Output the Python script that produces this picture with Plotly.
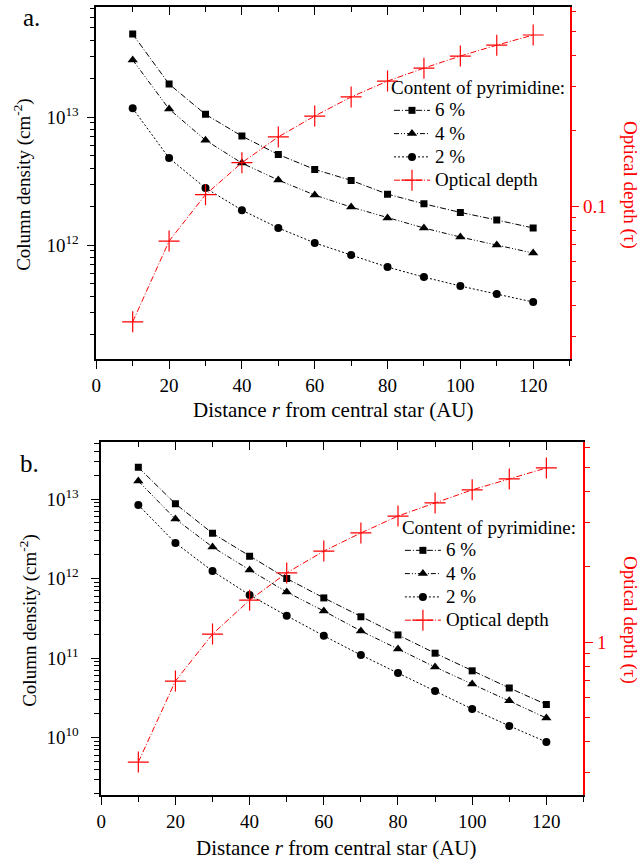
import plotly.graph_objects as go

W, H = 642, 867
FONT = "Liberation Serif, Times New Roman, DejaVu Serif, serif"

r = [10, 20, 30, 40, 50, 60, 70, 80, 90, 100, 110, 120]

# panel a
a_6 = [4.45e13, 1.81e13, 1.05e13, 7.1e12, 5.1e12, 3.9e12, 3.2e12, 2.5e12, 2.1e12, 1.8e12, 1.57e12, 1.36e12]
a_4 = [2.79e13, 1.155e13, 6.6e12, 4.37e12, 3.22e12, 2.46e12, 1.98e12, 1.63e12, 1.36e12, 1.155e12, 1.0e12, 8.66e11]
a_2 = [1.17e13, 4.78e12, 2.79e12, 1.875e12, 1.36e12, 1.04e12, 8.36e11, 6.73e11, 5.62e11, 4.79e11, 4.14e11, 3.59e11]
a_tau = [0.0344, 0.0724, 0.111, 0.149, 0.189, 0.229, 0.273, 0.316, 0.356, 0.398, 0.44, 0.483]

# panel b
b_6 = [2.5e13, 8.7e12, 3.7e12, 1.9e12, 1.0e12, 5.7e11, 3.3e11, 1.95e11, 1.15e11, 6.9e10, 4.2e10, 2.6e10]
b_4 = [1.68e13, 5.6e12, 2.49e12, 1.28e12, 6.76e11, 3.9e11, 2.19e11, 1.3e11, 7.7e10, 4.7e10, 2.9e10, 1.76e10]
b_2 = [8.4e12, 2.8e12, 1.24e12, 6.2e11, 3.4e11, 1.9e11, 1.09e11, 6.5e10, 3.85e10, 2.28e10, 1.4e10, 8.8e9]
b_tau = [0.331, 0.698, 1.076, 1.47, 1.89, 2.31, 2.73, 3.19, 3.60, 4.06, 4.49, 4.97]

series_names = ["6 %", "4 %", "2 %"]
tau_name = "Optical depth"
legend_title = "Content of pyrimidine:"
x_title = "Distance <i>r</i> from central star (AU)"
yl_title = "Column density (cm<sup>-2</sup>)"
yr_title = "Optical depth (\u03c4)"

x_major = [0, 20, 40, 60, 80, 100, 120]
x_minor = [10, 30, 50, 70, 90, 110, 130]

def px_x(p):
    return p / W

def px_y(p):
    return 1 - p / H

def big(s):
    return '<span style="font-size:19px">' + s + '</span>'

fig = go.Figure()

styles = [
    dict(symbol="square", size=7, dash="6px,2px,1px,2px"),
    dict(symbol="triangle-up", size=9, dash="5px,2px,1px,2px,1px,2px"),
    dict(symbol="circle", size=8, dash="2px,2px"),
]

def add_panel(xa, ya, ya2, xtop, data, tau, legend):
    for name, vals, st in zip(series_names, data, styles):
        fig.add_trace(go.Scatter(
            x=r, y=vals, name=big(name), mode="lines+markers", xaxis=xa, yaxis=ya,
            legend=legend,
            line=dict(color="black", width=1, dash=st["dash"]),
            marker=dict(symbol=st["symbol"], size=st["size"], color="black"),
        ))
    fig.add_trace(go.Scatter(
        x=r, y=tau, name=big(tau_name), mode="lines+markers", xaxis=xa, yaxis=ya2,
        legend=legend,
        line=dict(color="red", width=1, dash="6px,2px,1px,2px"),
        marker=dict(symbol="cross-thin", size=15, color="red",
                    line=dict(color="red", width=1.2)),
    ))
    # empty trace so the top (mirror) tick axis is drawn
    fig.add_trace(go.Scatter(x=[], y=[], xaxis=xtop, yaxis=ya,
                             showlegend=False, hoverinfo="skip"))

add_panel("x", "y", "y2", "x3", [a_6, a_4, a_2], a_tau, "legend")
add_panel("x2", "y3", "y4", "x4", [b_6, b_4, b_2], b_tau, "legend2")

tickfont = dict(family=FONT, size=19, color="black")
redfont = dict(family=FONT, size=19, color="red")

def xaxis_cfg(dom, anchor):
    return dict(
        domain=dom, anchor=anchor, range=[0, 130],
        tickmode="array", tickvals=x_major, ticks="outside", ticklen=8,
        tickwidth=1.3, tickcolor="black",
        minor=dict(tickmode="array", tickvals=x_minor, ticks="outside",
                   ticklen=5, tickwidth=1.3, tickcolor="black"),
        showline=True, linecolor="black", linewidth=1.5, mirror=True,
        showgrid=False, zeroline=False, tickfont=tickfont,
    )

def xtop_cfg(overlay, anchor):
    return dict(
        overlaying=overlay, anchor=anchor, side="top", range=[0, 130],
        tickmode="array", tickvals=x_major, ticks="inside", ticklen=8,
        tickwidth=1.3, tickcolor="black", showticklabels=False,
        minor=dict(tickmode="array", tickvals=x_minor, ticks="inside",
                   ticklen=5, tickwidth=1.3, tickcolor="black"),
        showline=False, showgrid=False, zeroline=False,
    )

def log_minor(lo, hi):
    vals = []
    for e in range(lo, hi + 1):
        for m in range(2, 10):
            vals.append(m * 10.0 ** e)
    return vals

def yleft_cfg(dom, anchor, rng, majors, labels, mlo, mhi, standoff):
    return dict(
        domain=dom, anchor=anchor, type="log", range=rng,
        tickmode="array", tickvals=majors, ticktext=labels,
        ticks="outside", ticklen=8, tickwidth=1.3, tickcolor="black",
        ticklabelstandoff=standoff,
        minor=dict(tickmode="array", tickvals=log_minor(mlo, mhi),
                   ticks="outside", ticklen=5, tickwidth=1.3, tickcolor="black"),
        showline=True, linecolor="black", linewidth=1.5,
        showgrid=False, zeroline=False, tickfont=tickfont,
    )

def yright_cfg(overlay, anchor, rng, majors, labels, mlo, mhi):
    return dict(
        overlaying=overlay, anchor=anchor, side="right", type="log", range=rng,
        tickmode="array", tickvals=majors, ticktext=labels,
        ticks="outside", ticklen=8, tickwidth=1.3, tickcolor="red",
        minor=dict(tickmode="array", tickvals=log_minor(mlo, mhi),
                   ticks="outside", ticklen=5, tickwidth=1.3, tickcolor="red"),
        showline=True, linecolor="red", linewidth=1.5,
        showgrid=False, zeroline=False, tickfont=redfont,
    )

dom_xa = [px_x(92), px_x(569)]
dom_ya = [px_y(359), px_y(7)]
dom_xb = [px_x(97), px_x(583)]
dom_yb = [px_y(795), px_y(442)]

legend_cfg = dict(
    font=dict(family=FONT, size=15.6, color="black"),
    bgcolor="rgba(0,0,0,0)", xanchor="left", yanchor="top",
    tracegroupgap=0, itemwidth=36,
    title=dict(text=legend_title, font=dict(family=FONT, size=19, color="black")),
)

fig.update_layout(
    width=W, height=H, margin=dict(l=0, r=0, t=0, b=0),
    paper_bgcolor="white", plot_bgcolor="white",
    font=dict(family=FONT, size=19, color="black"),
    xaxis=xaxis_cfg(dom_xa, "y"),
    yaxis=yleft_cfg(dom_ya, "x", [11.11, 13.86], [1e12, 1e13],
                    ["10<sup>12</sup>", "10<sup>13</sup>"], 11, 13, 4),
    yaxis2=yright_cfg("y", "x", [-1.612, -0.204], [0.1], ["0.1"], -2, -1),
    xaxis3=xtop_cfg("x", "y"),
    xaxis2=xaxis_cfg(dom_xb, "y3"),
    yaxis3=yleft_cfg(dom_yb, "x2", [9.277, 13.717], [1e10, 1e11, 1e12, 1e13],
                     ["10<sup>10</sup>", "10<sup>11</sup>", "10<sup>12</sup>", "10<sup>13</sup>"], 9, 13, 9),
    yaxis4=yright_cfg("y3", "x2", [-0.612, 0.8], [1], ["1"], -1, 0),
    xaxis4=xtop_cfg("x2", "y3"),
    legend=dict(legend_cfg, x=px_x(387), y=px_y(69)),
    legend2=dict(legend_cfg, x=px_x(398), y=px_y(509)),
    showlegend=True,
)

ann = []
def text(x, y, s, size=19, color="black", angle=0):
    ann.append(dict(x=px_x(x), y=px_y(y), xref="paper", yref="paper", text=s,
                    showarrow=False, textangle=angle,
                    font=dict(family=FONT, size=size, color=color),
                    xanchor="center", yanchor="middle"))

text(27, 17, "a.", size=25)
text(25, 463, "b.", size=25)
text(331, 410, x_title, size=21)
text(334, 848, x_title, size=21)
text(17, 184, yl_title, angle=-90)
text(23, 620, yl_title, angle=-90)
text(630, 185, yr_title, color="red", angle=90)
text(630, 620, yr_title, color="red", angle=90)
fig.update_layout(annotations=ann)

fig.write_html("out.html", config={"displayModeBar": False},
               post_script="document.body.style.margin='0';document.body.style.overflow='hidden';")
